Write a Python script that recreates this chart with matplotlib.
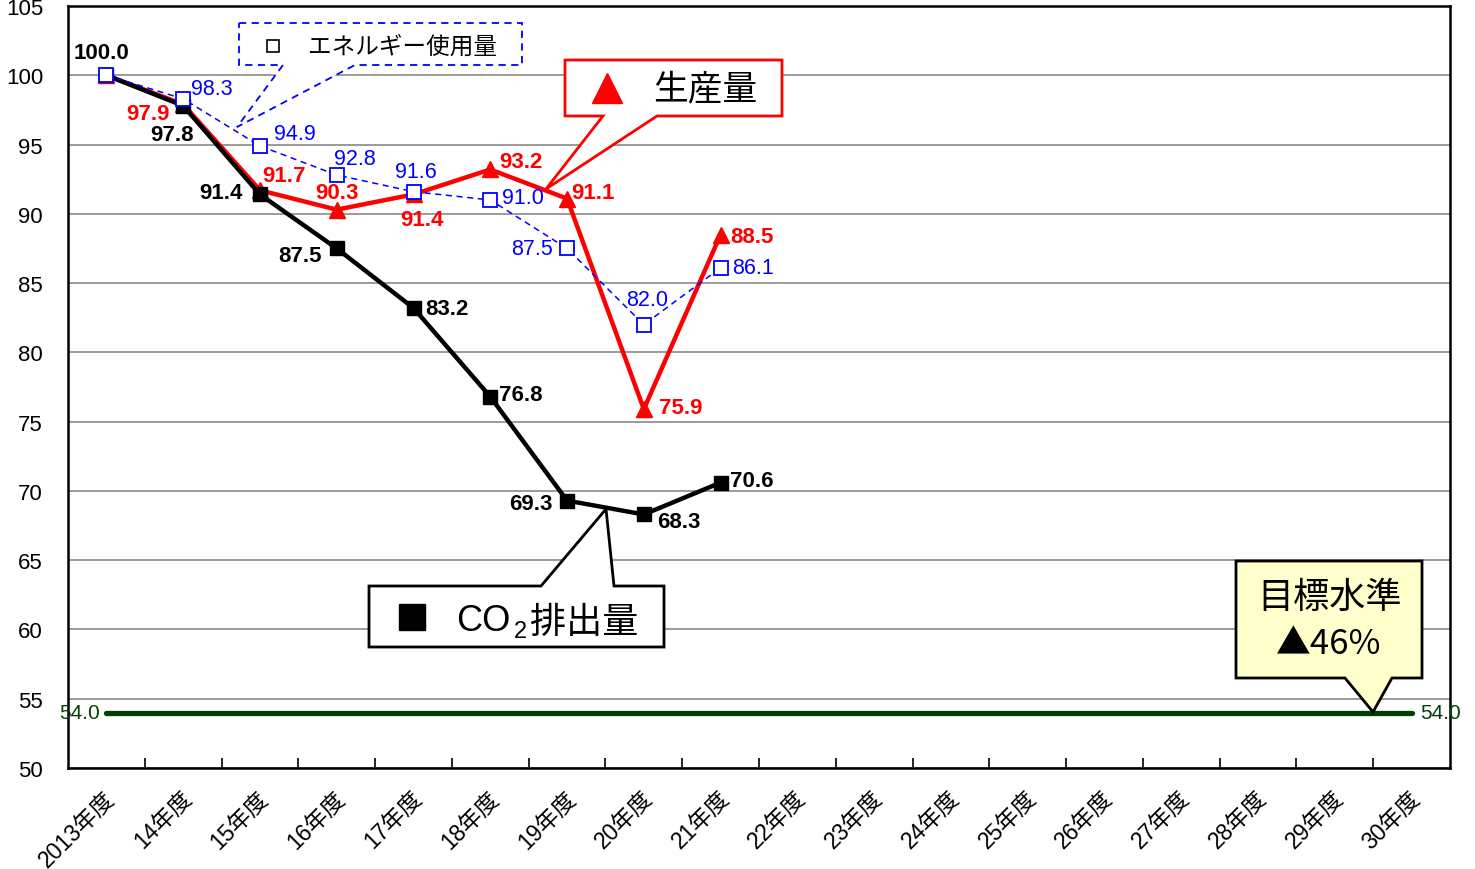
import matplotlib
matplotlib.use("Agg")
import matplotlib.pyplot as plt
from matplotlib.patches import Polygon
from matplotlib.transforms import ScaledTranslation

plt.rcParams['font.family'] = ['Liberation Sans', 'Noto Sans CJK JP', 'DejaVu Sans']

# ---- data -------------------------------------------------------------
years = ["2013年度", "14年度", "15年度", "16年度", "17年度", "18年度",
         "19年度", "20年度", "21年度", "22年度", "23年度", "24年度",
         "25年度", "26年度", "27年度", "28年度", "29年度", "30年度"]
co2 = [100.0, 97.8, 91.4, 87.5, 83.2, 76.8, 69.3, 68.3, 70.6]
production = [100.0, 97.9, 91.7, 90.3, 91.4, 93.2, 91.1, 75.9, 88.5]
energy = [100.0, 98.3, 94.9, 92.8, 91.6, 91.0, 87.5, 82.0, 86.1]
target = 54.0
yticks = [50, 55, 60, 65, 70, 75, 80, 85, 90, 95, 100, 105]

# label offsets in pixels (dx, dy) for each point's value label
co2_off = [(-5, 23), (-11, -29), (-39, 2), (-37, -7), (33, 0), (30, 2),
           (-36, -3), (35, -7), (31, 2)]
prod_off = [None, (-35, -9), (24, 15), (0, 17), (8, -25), (31, 8),
            (26, 6), (37, 2), (31, -2)]
energy_off = [None, (29, 10), (35, 12), (18, 17), (2, 20), (33, 2),
              (-35, 0), (3, 25), (32, 0)]

RED = "#FF0000"
BLUE = "#0000FF"
GREEN = "#004000"

W, H = 1475, 870
fig = plt.figure(figsize=(W / 100, H / 100), dpi=100)
AX_L, AX_R, AX_T, AX_B = 68, 1450, 7, 769
ax = fig.add_axes([AX_L / W, (H - AX_B) / H, (AX_R - AX_L) / W, (AX_B - AX_T) / H])


def axf(px, py):
    """pixel position inside the figure -> axes fraction"""
    return ((px - AX_L) / (AX_R - AX_L), (AX_B - py) / (AX_B - AX_T))


x_all = list(range(len(years)))
xs = list(range(len(co2)))

ax.set_xlim(-0.5, len(years) - 0.5)
ax.set_ylim(50, 105)
ax.set_yticks(yticks)
ax.set_yticklabels([str(v) for v in yticks], fontsize=16)
ax.tick_params(axis='y', length=0, pad=18)
ax.grid(axis='y', color='#808080', lw=1.1, zorder=0)
ax.set_axisbelow(True)

ax.set_xticks(x_all)
ax.set_xticklabels(years, fontsize=16.5, rotation=45, ha='right', va='top',
                   rotation_mode='anchor')
ax.tick_params(axis='x', which='major', length=0, pad=13)
ax.set_xticks([i + 0.5 for i in x_all[:-1]], minor=True)
ax.tick_params(axis='x', which='minor', length=7, direction='in', width=1.2)
shift = ScaledTranslation(-3 / 100, 0, fig.dpi_scale_trans)
for lbl in ax.get_xticklabels():
    lbl.set_transform(lbl.get_transform() + shift)

for sp in ax.spines.values():
    sp.set_linewidth(1.8)
    sp.set_color('black')

# ---- target line ---------------------------------------------------------
ax.plot([x_all[0], x_all[-1]], [target, target], color=GREEN, lw=3.8,
        solid_capstyle='round', zorder=3)
ax.text(x_all[0] - 0.35, target, f"{target:.1f}", color=GREEN, fontsize=15,
        ha='center', va='center', zorder=6)
ax.text(x_all[-1] + 0.38, target, f"{target:.1f}", color=GREEN, fontsize=15,
        ha='center', va='center', zorder=6)

# ---- series ------------------------------------------------------------
ax.plot(xs, production, color=RED, lw=3.2, marker='^', ms=12,
        mfc=RED, mec=RED, zorder=3)
ax.plot(xs, co2, color='black', lw=3.2, marker='s', ms=10,
        mfc='black', mec='black', zorder=4)
ax.plot(xs, energy, color=BLUE, lw=1.1, ls=(0, (4, 3)), marker='s', ms=10,
        mfc='white', mec=BLUE, mew=1.3, zorder=5)

for x, v, off in zip(xs, co2, co2_off):
    ax.annotate(f"{v:.1f}", (x, v), xytext=off, textcoords='offset pixels',
                ha='center', va='center', fontsize=16, fontweight='bold',
                color='black', zorder=7)
for x, v, off in zip(xs, production, prod_off):
    if off is None:
        continue
    ax.annotate(f"{v:.1f}", (x, v), xytext=off, textcoords='offset pixels',
                ha='center', va='center', fontsize=16, fontweight='bold',
                color=RED, zorder=7)
for x, v, off in zip(xs, energy, energy_off):
    if off is None:
        continue
    ax.annotate(f"{v:.1f}", (x, v), xytext=off, textcoords='offset pixels',
                ha='center', va='center', fontsize=15.5, color=BLUE, zorder=7)


# ---- callouts ------------------------------------------------------------
def callout(pts, **kw):
    poly = Polygon([axf(*p) for p in pts], closed=True,
                   transform=ax.transAxes, clip_on=False, **kw)
    ax.add_patch(poly)


# energy usage
callout([(239, 24), (522, 24), (522, 66), (355, 66), (237, 128), (283, 66),
         (239, 66)], facecolor='white', edgecolor=BLUE, lw=1.3,
        ls=(0, (4, 3)), zorder=2.5)
ax.plot(*axf(273, 47), marker='s', ms=9, mfc='white', mec='black', mew=1.2,
        transform=ax.transAxes, zorder=6, clip_on=False)
ax.text(*axf(402, 47), "エネルギー使用量", transform=ax.transAxes,
        fontsize=17, ha='center', va='center', zorder=6)

# production
callout([(565, 61), (782, 61), (782, 117), (657, 117), (546, 190), (603, 117),
         (565, 117)], facecolor='white', edgecolor=RED, lw=2.0, zorder=2.5)
ax.plot(*axf(607, 89), marker='^', ms=22, mfc=RED, mec=RED,
        transform=ax.transAxes, zorder=6, clip_on=False)
ax.text(*axf(705, 90), "生産量", transform=ax.transAxes,
        fontsize=25, ha='center', va='center', zorder=6)

# CO2 emissions
callout([(369, 587), (541, 587), (606, 510), (614, 587), (664, 587),
         (664, 648), (369, 648)], facecolor='white', edgecolor='black',
        lw=2.0, zorder=2.5)
ax.plot(*axf(412, 618), marker='s', ms=19, mfc='black', mec='black',
        transform=ax.transAxes, zorder=6, clip_on=False)
ax.text(*axf(456, 631), "CO", transform=ax.transAxes, fontsize=26,
        ha='left', va='baseline', zorder=6)
ax.text(*axf(514, 638), "2", transform=ax.transAxes, fontsize=17,
        ha='left', va='baseline', zorder=6)
ax.text(*axf(530, 633), "排出量", transform=ax.transAxes, fontsize=26,
        ha='left', va='baseline', zorder=6)

# target level
callout([(1236, 562), (1422, 562), (1422, 679), (1392, 679), (1373, 713),
         (1345, 679), (1236, 679)], facecolor='#FFFFCC', edgecolor='black',
        lw=2.0, zorder=4)
ax.text(*axf(1330, 598), "目標水準", transform=ax.transAxes,
        fontsize=26, ha='center', va='center', zorder=6,
        family=['Noto Sans CJK JP'])
ax.text(*axf(1329, 645), "▲46%", transform=ax.transAxes,
        fontsize=25, ha='center', va='center', zorder=6,
        family=['Noto Sans CJK JP'])

fig.savefig("out.png", dpi=100)
